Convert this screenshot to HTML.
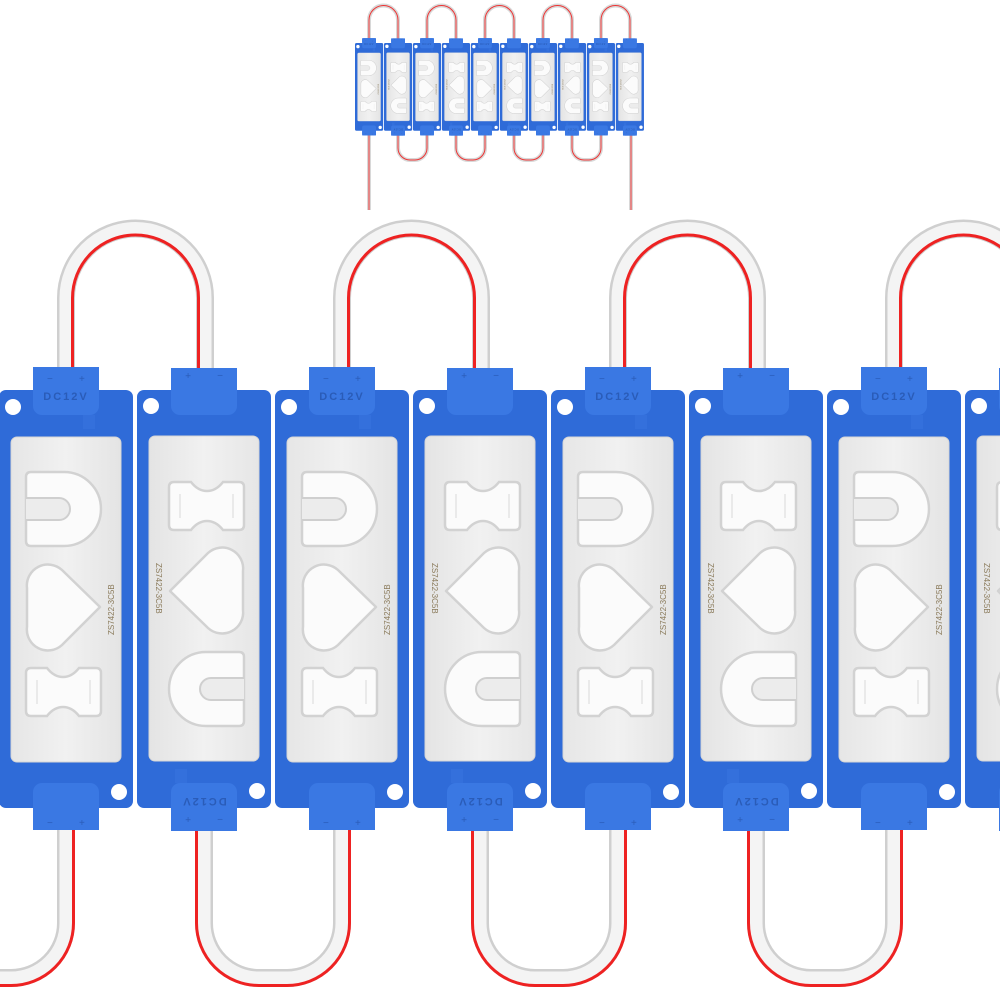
<!DOCTYPE html>
<html><head><meta charset="utf-8"><style>
html,body{margin:0;padding:0;background:#fff;}
svg{display:block;}
text{font-family:"Liberation Sans",sans-serif;}
</style></head><body>
<svg width="1000" height="1000" viewBox="0 0 1000 1000" xmlns="http://www.w3.org/2000/svg">
<defs>
  <linearGradient id="pg" x1="0" y1="0" x2="1" y2="0">
    <stop offset="0" stop-color="#e6e6e6"/><stop offset="0.5" stop-color="#f1f1f1"/><stop offset="1" stop-color="#e4e4e4"/>
  </linearGradient>
  <g id="mod">
    <rect x="0" y="0" width="134" height="418" rx="7" fill="#2f6bd8"/>
    <rect x="12" y="47" width="110" height="325" rx="6" fill="url(#pg)" stroke="#d6d6d6" stroke-width="1"/>
    <circle cx="14" cy="17" r="8" fill="#fff"/>
    <circle cx="120" cy="402" r="8" fill="#fff"/>
    <rect x="34" y="-23" width="66" height="48" rx="9" fill="#3a78e3"/>
    <rect x="34" y="-23" width="66" height="20" fill="#3a78e3"/>
    <rect x="84" y="25" width="12" height="14" fill="#3470dc"/>
    <text x="48" y="-8" font-size="10" fill="#2a5cb8">−</text>
    <text x="80" y="-8" font-size="10" fill="#2a5cb8">+</text>
    <text x="67" y="10" font-size="11" fill="#2a5cb8" text-anchor="middle" letter-spacing="2" font-weight="bold">DC12V</text>
    <rect x="34" y="393" width="66" height="47" rx="9" fill="#3a78e3"/>
    <rect x="34" y="420" width="66" height="20" fill="#3a78e3"/>
    <text x="48" y="436" font-size="10" fill="#2a5cb8">−</text>
    <text x="80" y="436" font-size="10" fill="#2a5cb8">+</text>
    <path d="M32,82 H65 A37,37 0 0 1 65,156 H32 Q27,156 27,151 V87 Q27,82 32,82 Z" fill="#fbfbfb" stroke="#d2d2d2" stroke-width="2.5" stroke-linejoin="round"/>
    <path d="M27,108 H60 A11,11 0 0 1 60,130 H27" fill="#ececec" stroke="#cfcfcf" stroke-width="2"/>
    <path d="M101,217 L63,180 A21,21 0 0 0 28,198 L28,237 A21,21 0 0 0 63,255 Z" fill="#fbfbfb" stroke="#d2d2d2" stroke-width="2.5" stroke-linejoin="round"/>
    <path d="M32,278 H48 Q55,287 64,287 Q73,287 80,278 H97 Q102,278 102,283 V321 Q102,326 97,326 H80 Q73,317 64,317 Q55,317 48,326 H32 Q27,326 27,321 V283 Q27,278 32,278 Z" fill="#fbfbfb" stroke="#d2d2d2" stroke-width="2.5"/>
    <path d="M38,290 V314 M91,290 V314" stroke="#d8d8d8" stroke-width="1"/>
    <text x="0" y="0" font-size="8" fill="#8a7a5a" transform="translate(115,245) rotate(-90)">ZS7422-3C5B</text>
  </g>
  <g id="tubeT">
    <path d="M0,0 V-72 A69.5,69.5 0 0 1 139,-72 V0" fill="none" stroke="#cfcfcf" stroke-width="18"/>
    <path d="M0,0 V-72 A69.5,69.5 0 0 1 139,-72 V0" fill="none" stroke="#f4f4f4" stroke-width="13"/>
    <path d="M6.5,0 V-72 A63,63 0 0 1 132.5,-72 V0" fill="none" stroke="#ee2222" stroke-width="3"/>
  </g>
  <g id="tubeB">
    <path d="M0,0 V93 A55,55 0 0 0 55,148 H83 A55,55 0 0 0 138,93 V0" fill="none" stroke="#cfcfcf" stroke-width="18"/>
    <path d="M0,0 V93 A55,55 0 0 0 55,148 H83 A55,55 0 0 0 138,93 V0" fill="none" stroke="#f4f4f4" stroke-width="13"/>
    <path d="M-7.5,0 V93 A62.5,62.5 0 0 0 55,155.5 H83 A62.5,62.5 0 0 0 145.5,93 V0" fill="none" stroke="#ee2222" stroke-width="3"/>
  </g>
  <g id="row">
    <use href="#tubeT" transform="translate(66,370)"/>
    <use href="#tubeT" transform="translate(342,370)"/>
    <use href="#tubeT" transform="translate(618,370)"/>
    <use href="#tubeT" transform="translate(894,370)"/>
    <use href="#tubeB" transform="translate(204,830)"/>
    <use href="#tubeB" transform="translate(480,830)"/>
    <use href="#tubeB" transform="translate(756,830)"/>
    <use href="#tubeB" transform="translate(-72,830)"/>
    <use href="#mod" transform="translate(-1,390)"/>
    <use href="#mod" transform="translate(137,390) rotate(180,67,209)"/>
    <use href="#mod" transform="translate(275,390)"/>
    <use href="#mod" transform="translate(413,390) rotate(180,67,209)"/>
    <use href="#mod" transform="translate(551,390)"/>
    <use href="#mod" transform="translate(689,390) rotate(180,67,209)"/>
    <use href="#mod" transform="translate(827,390)"/>
    <use href="#mod" transform="translate(965,390) rotate(180,67,209)"/>
  </g>
</defs>

<use href="#row"/>

<g>
  <g fill="none">
    <path d="M369,40 V20 A14.5,14.5 0 0 1 398,20 V40 M427,40 V20 A14.5,14.5 0 0 1 456,20 V40 M485,40 V20 A14.5,14.5 0 0 1 514,20 V40 M543,40 V20 A14.5,14.5 0 0 1 572,20 V40 M601,40 V20 A14.5,14.5 0 0 1 630,20 V40" stroke="#d8d8d8" stroke-width="4"/>
    <path d="M369,40 V20 A14.5,14.5 0 0 1 398,20 V40 M427,40 V20 A14.5,14.5 0 0 1 456,20 V40 M485,40 V20 A14.5,14.5 0 0 1 514,20 V40 M543,40 V20 A14.5,14.5 0 0 1 572,20 V40 M601,40 V20 A14.5,14.5 0 0 1 630,20 V40" stroke="#ee3333" stroke-width="1"/>
    <path d="M398,128 V148 A12,12 0 0 0 410,160 H415 A12,12 0 0 0 427,148 V128 M456,128 V148 A12,12 0 0 0 468,160 H473 A12,12 0 0 0 485,148 V128 M514,128 V148 A12,12 0 0 0 526,160 H531 A12,12 0 0 0 543,148 V128 M572,128 V148 A12,12 0 0 0 584,160 H589 A12,12 0 0 0 601,148 V128 M369,128 V210 M631,128 V210" stroke="#d8d8d8" stroke-width="4"/>
    <path d="M398,128 V148 A12,12 0 0 0 410,160 H415 A12,12 0 0 0 427,148 V128 M456,128 V148 A12,12 0 0 0 468,160 H473 A12,12 0 0 0 485,148 V128 M514,128 V148 A12,12 0 0 0 526,160 H531 A12,12 0 0 0 543,148 V128 M572,128 V148 A12,12 0 0 0 584,160 H589 A12,12 0 0 0 601,148 V128 M369,128 V210 M631,128 V210" stroke="#ee3333" stroke-width="1"/>
  </g>
  <g transform="translate(355,43) scale(0.21)">
    <use href="#mod" transform="translate(0,0)"/>
    <use href="#mod" transform="translate(138,0) rotate(180,67,209)"/>
    <use href="#mod" transform="translate(276,0)"/>
    <use href="#mod" transform="translate(414,0) rotate(180,67,209)"/>
    <use href="#mod" transform="translate(552,0)"/>
    <use href="#mod" transform="translate(690,0) rotate(180,67,209)"/>
    <use href="#mod" transform="translate(828,0)"/>
    <use href="#mod" transform="translate(966,0) rotate(180,67,209)"/>
    <use href="#mod" transform="translate(1104,0)"/>
    <use href="#mod" transform="translate(1242,0) rotate(180,67,209)"/>
  </g>
</g>
</svg>
</body></html>
